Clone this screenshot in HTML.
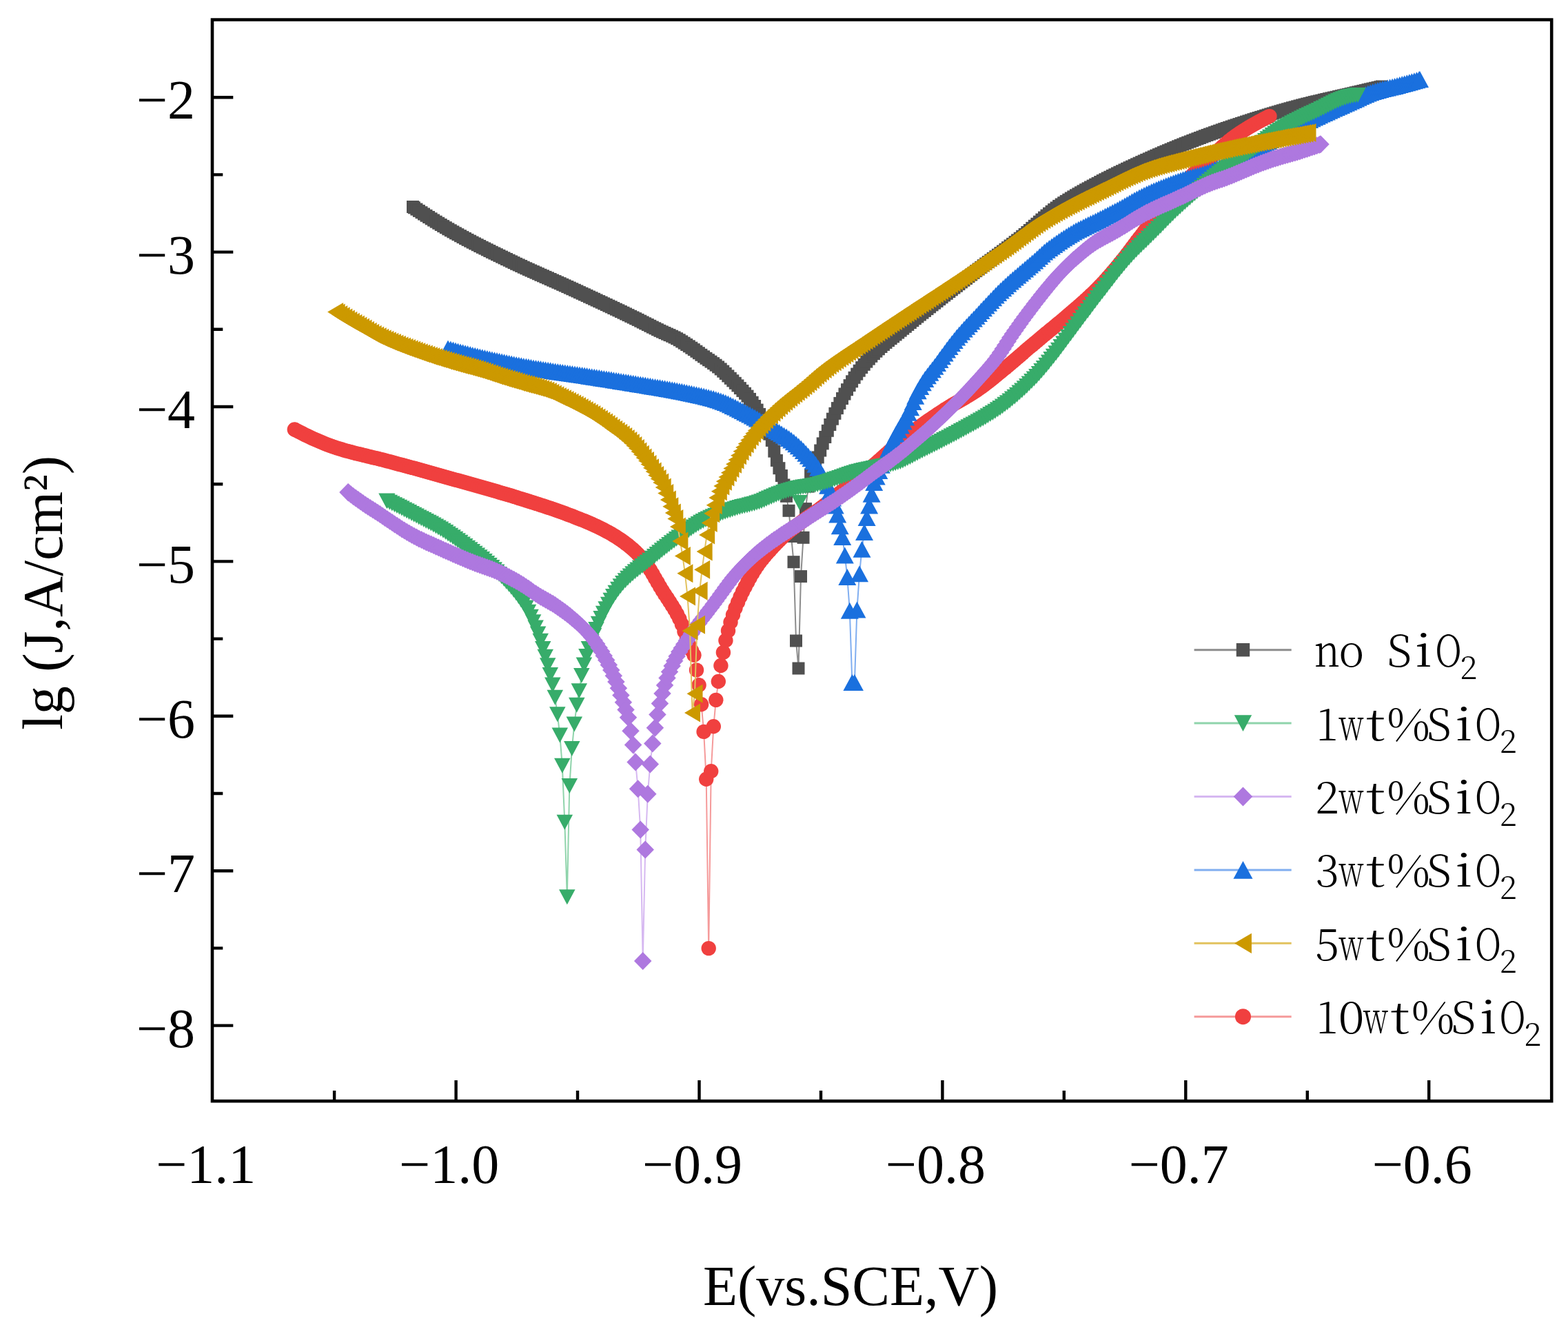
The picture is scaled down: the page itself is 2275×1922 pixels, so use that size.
<!DOCTYPE html>
<html><head><meta charset="utf-8"><title>Polarization curves</title>
<style>html,body{margin:0;padding:0;background:#fff;overflow:hidden}svg{display:block}</style>
</head><body>
<svg xmlns="http://www.w3.org/2000/svg" width="2275" height="1922" viewBox="0 0 2275 1922"><defs><marker id="mgray" markerUnits="userSpaceOnUse" markerWidth="40" markerHeight="40" refX="0" refY="0" viewBox="-20 -20 40 40" orient="0" overflow="visible"><g fill="#505050"><rect x="-9" y="-9" width="18" height="18"/></g></marker><marker id="mgreen" markerUnits="userSpaceOnUse" markerWidth="40" markerHeight="40" refX="0" refY="0" viewBox="-20 -20 40 40" orient="0" overflow="visible"><g fill="#37ac6a"><path d="M-11.75 -11H11.75L0 11Z"/></g></marker><marker id="mpurple" markerUnits="userSpaceOnUse" markerWidth="40" markerHeight="40" refX="0" refY="0" viewBox="-20 -20 40 40" orient="0" overflow="visible"><g fill="#ae78df"><path d="M0 -13L12.75 0L0 13L-12.75 0Z"/></g></marker><marker id="mblue" markerUnits="userSpaceOnUse" markerWidth="40" markerHeight="40" refX="0" refY="0" viewBox="-20 -20 40 40" orient="0" overflow="visible"><g fill="#1a70de"><path d="M-13 12H13L0 -12Z"/></g></marker><marker id="mgold" markerUnits="userSpaceOnUse" markerWidth="40" markerHeight="40" refX="0" refY="0" viewBox="-20 -20 40 40" orient="0" overflow="visible"><g fill="#cc9900"><path d="M11.5 -13.5V13.5L-11.5 0Z"/></g></marker><marker id="mred" markerUnits="userSpaceOnUse" markerWidth="40" markerHeight="40" refX="0" refY="0" viewBox="-20 -20 40 40" orient="0" overflow="visible"><g fill="#f0403f"><circle r="10.7"/></g></marker></defs><rect x="0" y="0" width="2275" height="1922" fill="#fff"/>
<path d="M599.0 300.0 600.9 301.3 604.4 303.6 607.9 305.9 611.5 308.2 615.0 310.5 618.5 312.8 622.1 315.0 625.6 317.3 629.1 319.5 632.7 321.7 636.2 323.8 639.7 326.0 643.2 328.1 646.8 330.2 650.3 332.3 653.8 334.3 657.4 336.3 660.9 338.3 664.4 340.2 668.0 342.2 671.5 344.1 675.0 346.0 678.5 347.9 682.1 349.7 685.6 351.6 689.1 353.4 692.7 355.2 696.2 357.0 699.7 358.8 703.3 360.5 706.8 362.3 710.3 364.0 713.8 365.8 717.4 367.5 720.9 369.2 724.4 370.9 728.0 372.6 731.5 374.3 735.0 376.0 738.6 377.7 742.1 379.4 745.6 381.1 749.1 382.8 752.7 384.4 756.2 386.0 759.7 387.7 763.3 389.3 766.8 390.9 770.3 392.5 773.9 394.1 777.4 395.6 780.9 397.2 784.4 398.8 788.0 400.3 791.5 401.9 795.0 403.4 798.6 405.0 802.1 406.6 805.6 408.1 809.2 409.7 812.7 411.2 816.2 412.8 819.7 414.4 823.3 416.0 826.8 417.6 830.3 419.2 833.9 420.8 837.4 422.4 840.9 424.1 844.5 425.7 848.0 427.3 851.5 428.9 855.0 430.6 858.6 432.2 862.1 433.8 865.6 435.5 869.2 437.1 872.7 438.7 876.2 440.4 879.8 442.0 883.3 443.7 886.8 445.3 890.3 447.0 893.9 448.7 897.4 450.3 900.9 452.0 904.5 453.7 908.0 455.4 911.5 457.1 915.1 458.8 918.6 460.5 922.1 462.2 925.6 463.9 929.2 465.7 932.7 467.5 936.2 469.3 939.8 471.0 943.3 472.8 946.8 474.6 950.4 476.3 953.9 478.1 957.4 479.8 960.9 481.4 964.5 483.0 968.0 484.6 971.5 486.1 975.1 487.7 978.6 489.4 982.1 491.2 985.7 493.2 989.2 495.4 992.7 497.7 996.2 500.0 999.8 502.3 1003.3 504.7 1006.8 507.1 1010.4 509.7 1013.9 512.2 1017.4 514.8 1021.0 517.3 1024.5 519.8 1028.0 522.2 1031.5 524.6 1035.1 527.1 1038.6 529.7 1042.1 532.4 1045.7 535.4 1049.2 538.6 1052.7 541.9 1056.3 545.4 1059.8 548.8 1063.3 552.3 1066.8 555.8 1070.4 559.4 1073.9 563.1 1077.4 566.9 1081.0 570.7 1084.5 574.6 1088.0 578.9 1091.6 583.7 1095.1 589.0 1098.6 594.6 1102.1 600.9 1105.7 607.9 1109.2 615.3 1112.7 622.4 1116.3 629.6 1119.8 638.9 1123.3 654.6 1126.9 667.9 1130.4 679.2 1133.9 690.0 1137.4 703.5 1141.0 719.8 1144.5 740.8 1148.0 778.0 1151.5 815.2 1155.0 929.5 1158.5 969.5 1162.0 836.1 1165.5 779.8 1169.0 738.1 1172.6 705.6 1176.1 688.3 1179.6 678.8 1183.1 671.7 1186.7 663.4 1190.2 653.5 1193.7 643.4 1197.3 634.0 1200.8 624.8 1204.3 616.0 1207.9 607.7 1211.4 599.8 1214.9 592.1 1218.4 584.9 1222.0 578.0 1225.5 571.5 1229.0 565.2 1232.6 559.1 1236.1 553.3 1239.6 547.8 1243.2 542.6 1246.7 537.7 1250.2 533.1 1253.7 528.8 1257.3 524.6 1260.8 520.6 1264.3 516.8 1267.9 513.1 1271.4 509.6 1274.9 506.3 1278.5 503.0 1282.0 499.9 1285.5 496.9 1289.0 494.0 1292.6 491.1 1296.1 488.3 1299.6 485.4 1303.2 482.5 1306.7 479.6 1310.2 476.7 1313.8 473.8 1317.3 470.9 1320.8 468.0 1324.3 465.1 1327.9 462.2 1331.4 459.4 1334.9 456.5 1338.5 453.7 1342.0 450.9 1345.5 448.1 1349.1 445.3 1352.6 442.4 1356.1 439.7 1359.6 436.9 1363.2 434.1 1366.7 431.3 1370.2 428.5 1373.8 425.8 1377.3 423.0 1380.8 420.3 1384.4 417.5 1387.9 414.8 1391.4 412.1 1394.9 409.3 1398.5 406.6 1402.0 403.9 1405.5 401.2 1409.1 398.5 1412.6 395.8 1416.1 393.1 1419.7 390.5 1423.2 387.9 1426.7 385.2 1430.2 382.6 1433.8 380.0 1437.3 377.5 1440.8 374.9 1444.4 372.3 1447.9 369.7 1451.4 367.1 1455.0 364.5 1458.5 361.8 1462.0 359.2 1465.5 356.5 1469.1 353.9 1472.6 351.1 1476.1 348.4 1479.7 345.7 1483.2 342.8 1486.7 340.0 1490.3 337.0 1493.8 334.0 1497.3 330.9 1500.8 327.8 1504.4 324.8 1507.9 321.7 1511.4 318.6 1515.0 315.6 1518.5 312.6 1522.0 309.7 1525.6 306.8 1529.1 304.1 1532.6 301.5 1536.1 298.9 1539.7 296.5 1543.2 294.2 1546.7 291.9 1550.3 289.7 1553.8 287.5 1557.3 285.4 1560.9 283.3 1564.4 281.3 1567.9 279.3 1571.4 277.3 1575.0 275.3 1578.5 273.4 1582.0 271.5 1585.6 269.6 1589.1 267.7 1592.6 265.9 1596.2 264.0 1599.7 262.1 1603.2 260.3 1606.7 258.5 1610.3 256.8 1613.8 255.0 1617.3 253.3 1620.9 251.5 1624.4 249.8 1627.9 248.2 1631.5 246.5 1635.0 244.8 1638.5 243.2 1642.0 241.6 1645.6 239.9 1649.1 238.3 1652.6 236.7 1656.2 235.1 1659.7 233.5 1663.2 231.9 1666.8 230.4 1670.3 228.8 1673.8 227.3 1677.3 225.7 1680.9 224.2 1684.4 222.7 1687.9 221.1 1691.5 219.6 1695.0 218.2 1698.5 216.7 1702.1 215.2 1705.6 213.8 1709.1 212.3 1712.6 210.9 1716.2 209.5 1719.7 208.1 1723.2 206.7 1726.8 205.4 1730.3 204.0 1733.8 202.6 1737.4 201.3 1740.9 200.0 1744.4 198.6 1747.9 197.3 1751.5 196.0 1755.0 194.7 1758.5 193.5 1762.1 192.2 1765.6 190.9 1769.1 189.7 1772.7 188.4 1776.2 187.2 1779.7 186.0 1783.2 184.8 1786.8 183.6 1790.3 182.4 1793.8 181.3 1797.4 180.1 1800.9 178.9 1804.4 177.8 1808.0 176.6 1811.5 175.5 1815.0 174.4 1818.5 173.2 1822.1 172.1 1825.6 171.0 1829.1 169.9 1832.7 168.8 1836.2 167.7 1839.7 166.6 1843.3 165.5 1846.8 164.5 1850.3 163.4 1853.8 162.4 1857.4 161.3 1860.9 160.3 1864.4 159.3 1868.0 158.3 1871.5 157.3 1875.0 156.3 1878.6 155.4 1882.1 154.4 1885.6 153.5 1889.1 152.5 1892.7 151.6 1896.2 150.7 1899.7 149.9 1903.3 149.0 1906.8 148.1 1910.3 147.3 1913.9 146.5 1917.4 145.7 1920.9 144.8 1924.4 144.0 1928.0 143.2 1931.5 142.4 1935.0 141.6 1938.6 140.8 1942.1 140.0 1945.6 139.2 1949.2 138.4 1952.7 137.6 1956.2 136.8 1959.7 136.0 1963.3 135.2 1966.8 134.3 1970.3 133.5 1973.9 132.7 1977.4 131.9 1980.9 131.1 1984.5 130.2 1988.0 129.4 1991.5 128.6 1995.0 127.8 1998.6 127.0 2002.1 126.2 2005.0 125.5" fill="none" stroke="#8c8c8c" stroke-width="2" marker-start="url(#mgray)" marker-mid="url(#mgray)" marker-end="url(#mgray)"/>
<path d="M427.3 623.0 428.1 623.4 431.6 625.2 435.1 627.0 438.7 628.8 442.2 630.6 445.7 632.3 449.3 633.9 452.8 635.6 456.3 637.2 459.9 638.8 463.4 640.3 466.9 641.8 470.4 643.2 474.0 644.6 477.5 645.9 481.0 647.2 484.6 648.4 488.1 649.6 491.6 650.7 495.2 651.8 498.7 652.9 502.2 653.9 505.7 654.8 509.3 655.8 512.8 656.7 516.3 657.6 519.9 658.5 523.4 659.3 526.9 660.2 530.5 661.0 534.0 661.9 537.5 662.7 541.0 663.6 544.6 664.4 548.1 665.3 551.6 666.1 555.2 667.0 558.7 668.0 562.2 668.9 565.8 669.8 569.3 670.8 572.8 671.7 576.3 672.7 579.9 673.6 583.4 674.5 586.9 675.5 590.5 676.5 594.0 677.4 597.5 678.4 601.1 679.3 604.6 680.3 608.1 681.3 611.6 682.2 615.2 683.2 618.7 684.2 622.2 685.2 625.8 686.2 629.3 687.1 632.8 688.1 636.4 689.1 639.9 690.1 643.4 691.1 646.9 692.1 650.5 693.1 654.0 694.1 657.5 695.1 661.1 696.1 664.6 697.0 668.1 698.0 671.7 699.0 675.2 700.0 678.7 701.0 682.2 701.9 685.8 702.9 689.3 703.9 692.8 704.9 696.4 705.9 699.9 706.9 703.4 707.9 707.0 708.9 710.5 710.0 714.0 711.0 717.5 712.0 721.1 713.0 724.6 714.1 728.1 715.1 731.7 716.1 735.2 717.2 738.7 718.2 742.3 719.3 745.8 720.4 749.3 721.5 752.8 722.6 756.4 723.7 759.9 724.8 763.4 725.9 767.0 727.0 770.5 728.1 774.0 729.3 777.6 730.4 781.1 731.5 784.6 732.6 788.1 733.8 791.7 735.0 795.2 736.1 798.7 737.3 802.3 738.5 805.8 739.7 809.3 741.0 812.9 742.2 816.4 743.5 819.9 744.8 823.4 746.1 827.0 747.4 830.5 748.8 834.0 750.2 837.6 751.6 841.1 753.0 844.6 754.4 848.2 755.8 851.7 757.3 855.2 758.8 858.7 760.3 862.3 761.9 865.8 763.5 869.3 765.2 872.9 766.9 876.4 768.7 879.9 770.6 883.5 772.5 887.0 774.5 890.5 776.6 894.0 778.8 897.6 781.1 901.1 783.4 904.6 785.9 908.2 788.6 911.7 791.3 915.2 794.2 918.8 797.3 922.3 800.5 925.8 804.0 929.3 807.6 932.9 811.4 936.4 815.9 939.9 821.1 943.5 826.7 947.0 832.6 950.5 838.8 954.1 844.9 957.6 851.0 961.1 856.8 964.6 862.3 968.2 867.6 971.7 873.0 975.2 878.5 978.8 884.3 982.3 890.6 985.8 897.5 989.4 905.7 992.9 915.9 996.4 926.5 999.9 935.9 1003.5 943.5 1007.0 950.2 1010.5 971.9 1014.1 993.7 1017.6 1021.8 1021.1 1061.4 1024.7 1130.3 1028.2 1375.6 1031.7 1118.8 1035.3 1053.7 1038.8 1015.4 1042.3 988.5 1045.9 965.5 1049.4 946.4 1052.9 929.0 1056.5 914.9 1060.0 902.5 1063.5 891.7 1067.0 882.1 1070.6 873.5 1074.1 865.5 1077.6 858.1 1081.2 851.1 1084.7 844.4 1088.2 837.9 1091.8 831.8 1095.3 826.0 1098.8 820.7 1102.3 815.8 1105.9 811.2 1109.4 806.9 1112.9 802.8 1116.5 798.9 1120.0 795.0 1123.5 791.2 1127.1 787.5 1130.6 783.9 1134.1 780.4 1137.6 777.1 1141.2 774.0 1144.7 771.0 1148.2 768.1 1151.8 765.4 1155.3 762.7 1158.8 760.1 1162.4 757.5 1165.9 754.8 1169.4 752.3 1172.9 749.8 1176.5 747.4 1180.0 744.9 1183.5 742.5 1187.1 739.9 1190.6 737.3 1194.1 734.6 1197.7 731.9 1201.2 729.1 1204.7 726.3 1208.2 723.4 1211.8 720.6 1215.3 717.8 1218.8 714.9 1222.4 712.1 1225.9 709.2 1229.4 706.4 1233.0 703.5 1236.5 700.6 1240.0 697.7 1243.5 694.8 1247.1 691.9 1250.6 689.0 1254.1 686.1 1257.7 683.1 1261.2 680.2 1264.7 677.2 1268.3 674.2 1271.8 671.2 1275.3 668.1 1278.8 665.0 1282.4 661.8 1285.9 658.6 1289.4 655.5 1293.0 652.3 1296.5 649.2 1300.0 646.1 1303.6 643.0 1307.1 640.0 1310.6 637.1 1314.1 634.2 1317.7 631.5 1321.2 628.8 1324.7 626.1 1328.3 623.5 1331.8 620.9 1335.3 618.3 1338.9 615.8 1342.4 613.3 1345.9 610.8 1349.4 608.4 1353.0 606.0 1356.5 603.6 1360.0 601.2 1363.6 598.9 1367.1 596.6 1370.6 594.3 1374.2 592.1 1377.7 589.9 1381.2 587.8 1384.7 585.8 1388.3 583.7 1391.8 581.7 1395.3 579.7 1398.9 577.6 1402.4 575.5 1405.9 573.4 1409.5 571.2 1413.0 569.0 1416.5 566.7 1420.0 564.3 1423.6 561.8 1427.1 559.2 1430.6 556.5 1434.2 553.7 1437.7 550.9 1441.2 548.1 1444.8 545.2 1448.3 542.3 1451.8 539.4 1455.3 536.5 1458.9 533.6 1462.4 530.7 1465.9 527.7 1469.5 524.7 1473.0 521.7 1476.5 518.7 1480.1 515.6 1483.6 512.6 1487.1 509.5 1490.6 506.5 1494.2 503.5 1497.7 500.6 1501.2 497.6 1504.8 494.7 1508.3 491.7 1511.8 488.8 1515.4 485.8 1518.9 482.9 1522.4 480.0 1525.9 477.1 1529.5 474.2 1533.0 471.3 1536.5 468.4 1540.1 465.5 1543.6 462.5 1547.1 459.5 1550.7 456.4 1554.2 453.4 1557.7 450.4 1561.2 447.4 1564.8 444.3 1568.3 441.2 1571.8 438.1 1575.4 434.9 1578.9 431.6 1582.4 428.3 1586.0 425.0 1589.5 421.5 1593.0 418.0 1596.5 414.4 1600.1 410.6 1603.6 406.8 1607.1 402.8 1610.7 398.8 1614.2 394.6 1617.7 390.5 1621.3 386.2 1624.8 381.9 1628.3 377.6 1631.8 373.2 1635.4 368.6 1638.9 364.0 1642.4 359.3 1646.0 354.6 1649.5 349.9 1653.0 345.3 1656.6 340.7 1660.1 336.0 1663.6 331.3 1667.1 326.6 1670.7 321.9 1674.2 317.2 1677.7 312.5 1681.3 307.9 1684.8 303.4 1688.3 298.9 1691.9 294.6 1695.4 290.3 1698.9 286.2 1702.4 282.3 1706.0 278.4 1709.5 274.6 1713.0 270.9 1716.6 267.3 1720.1 263.7 1723.6 260.2 1727.2 256.7 1730.7 253.3 1734.2 249.9 1737.7 246.5 1741.3 243.2 1744.8 239.9 1748.3 236.6 1751.9 233.2 1755.4 229.9 1758.9 226.5 1762.5 223.2 1766.0 219.8 1769.5 216.5 1773.0 213.3 1776.6 210.2 1780.1 207.1 1783.6 204.1 1787.2 201.3 1790.7 198.7 1794.2 196.1 1797.8 193.7 1801.3 191.4 1804.8 189.1 1808.3 187.0 1811.9 184.8 1815.4 182.8 1818.9 180.8 1822.5 178.8 1826.0 176.8 1829.5 174.9 1833.1 173.0 1836.6 171.2 1840.1 169.5 1842.0 168.6" fill="none" stroke="#f59a9a" stroke-width="2" marker-start="url(#mred)" marker-mid="url(#mred)" marker-end="url(#mred)"/>
<path d="M650.0 505.5 653.9 506.6 657.5 507.5 661.0 508.5 664.5 509.4 668.1 510.4 671.6 511.3 675.1 512.2 678.6 513.1 682.2 514.0 685.7 514.9 689.2 515.7 692.8 516.6 696.3 517.4 699.8 518.3 703.4 519.1 706.9 519.9 710.4 520.7 713.9 521.5 717.5 522.3 721.0 523.0 724.5 523.8 728.1 524.6 731.6 525.3 735.1 526.0 738.7 526.8 742.2 527.5 745.7 528.2 749.2 528.9 752.8 529.6 756.3 530.2 759.8 530.9 763.4 531.5 766.9 532.1 770.4 532.7 774.0 533.4 777.5 534.0 781.0 534.5 784.5 535.1 788.1 535.7 791.6 536.3 795.1 536.8 798.7 537.3 802.2 537.9 805.7 538.4 809.3 538.9 812.8 539.4 816.3 539.9 819.8 540.4 823.4 540.9 826.9 541.4 830.4 541.9 834.0 542.4 837.5 543.0 841.0 543.5 844.6 544.0 848.1 544.6 851.6 545.1 855.1 545.7 858.7 546.2 862.2 546.7 865.7 547.3 869.3 547.8 872.8 548.4 876.3 548.9 879.9 549.5 883.4 550.0 886.9 550.6 890.4 551.2 894.0 551.7 897.5 552.3 901.0 552.9 904.6 553.4 908.1 554.0 911.6 554.6 915.2 555.2 918.7 555.7 922.2 556.3 925.7 556.9 929.3 557.5 932.8 558.1 936.3 558.6 939.9 559.2 943.4 559.8 946.9 560.4 950.5 560.9 954.0 561.5 957.5 562.1 961.0 562.7 964.6 563.3 968.1 563.9 971.6 564.6 975.2 565.2 978.7 565.8 982.2 566.5 985.8 567.2 989.3 567.8 992.8 568.5 996.3 569.2 999.9 570.0 1003.4 570.7 1006.9 571.4 1010.5 572.2 1014.0 572.9 1017.5 573.7 1021.1 574.5 1024.6 575.4 1028.1 576.3 1031.6 577.2 1035.2 578.1 1038.7 579.2 1042.2 580.3 1045.8 581.4 1049.3 582.7 1052.8 584.1 1056.4 585.6 1059.9 587.2 1063.4 588.9 1066.9 590.6 1070.5 592.4 1074.0 594.2 1077.5 596.0 1081.1 597.9 1084.6 599.8 1088.1 601.6 1091.7 603.5 1095.2 605.5 1098.7 607.6 1102.2 609.7 1105.8 611.8 1109.3 614.0 1112.8 616.1 1116.4 618.3 1119.9 620.5 1123.4 622.7 1127.0 624.9 1130.5 627.0 1134.0 629.2 1137.5 631.4 1141.1 633.6 1144.6 636.0 1148.1 638.6 1151.7 641.3 1155.2 644.2 1158.7 647.3 1162.3 650.6 1165.8 654.1 1169.3 657.7 1172.8 661.4 1176.4 665.3 1179.9 669.3 1183.4 673.8 1187.0 678.7 1190.5 684.3 1194.0 690.6 1197.6 697.4 1201.1 704.8 1204.6 713.0 1208.1 722.4 1211.7 733.6 1215.2 746.6 1218.7 763.3 1222.2 779.1 1225.8 805.5 1229.3 837.1 1232.8 885.8 1236.4 990.0 1239.9 990.0 1243.4 884.6 1247.0 832.2 1250.5 796.7 1254.0 772.1 1257.6 751.0 1261.1 733.4 1264.6 716.7 1268.2 700.0 1271.7 691.4 1275.3 683.0 1278.8 674.8 1282.3 666.7 1285.8 658.9 1289.4 651.3 1292.9 644.0 1296.4 636.9 1300.0 630.1 1303.5 623.7 1307.0 617.6 1310.6 611.6 1314.1 605.5 1317.6 598.8 1321.1 591.2 1324.7 582.9 1328.2 574.7 1331.7 567.2 1335.3 560.9 1338.8 555.3 1342.3 550.1 1345.9 545.3 1349.4 540.7 1352.9 536.2 1356.4 531.7 1360.0 526.9 1363.5 522.1 1367.0 517.2 1370.6 512.4 1374.1 507.6 1377.6 502.9 1381.2 498.3 1384.7 493.9 1388.2 489.6 1391.7 485.5 1395.3 481.5 1398.8 477.6 1402.3 473.8 1405.9 470.0 1409.4 466.2 1412.9 462.5 1416.5 458.7 1420.0 454.9 1423.5 451.1 1427.0 447.3 1430.6 443.5 1434.1 439.7 1437.6 436.0 1441.2 432.3 1444.7 428.6 1448.2 425.1 1451.8 421.6 1455.3 418.2 1458.8 415.0 1462.3 411.8 1465.9 408.6 1469.4 405.6 1472.9 402.5 1476.5 399.5 1480.0 396.6 1483.5 393.6 1487.1 390.6 1490.6 387.6 1494.1 384.6 1497.6 381.5 1501.2 378.4 1504.7 375.2 1508.2 371.9 1511.8 368.7 1515.3 365.6 1518.8 362.8 1522.4 360.1 1525.9 357.4 1529.4 354.9 1532.9 352.4 1536.5 349.9 1540.0 347.6 1543.5 345.3 1547.1 343.0 1550.6 340.8 1554.1 338.7 1557.7 336.6 1561.2 334.6 1564.7 332.7 1568.2 330.9 1571.8 329.2 1575.3 327.5 1578.8 325.8 1582.4 324.1 1585.9 322.4 1589.4 320.7 1593.0 318.9 1596.5 317.1 1600.0 315.4 1603.5 313.6 1607.1 311.8 1610.6 310.0 1614.1 308.1 1617.7 306.3 1621.2 304.4 1624.7 302.5 1628.3 300.5 1631.8 298.5 1635.3 296.4 1638.8 294.4 1642.4 292.3 1645.9 290.3 1649.4 288.4 1653.0 286.5 1656.5 284.7 1660.0 283.0 1663.6 281.3 1667.1 279.7 1670.6 278.1 1674.1 276.6 1677.7 275.1 1681.2 273.6 1684.7 272.1 1688.3 270.7 1691.8 269.3 1695.3 267.9 1698.9 266.6 1702.4 265.2 1705.9 264.0 1709.4 262.7 1713.0 261.5 1716.5 260.3 1720.0 259.2 1723.6 258.2 1727.1 257.2 1730.6 256.3 1734.2 255.3 1737.7 254.4 1741.2 253.4 1744.7 252.4 1748.3 251.3 1751.8 250.2 1755.3 248.9 1758.9 247.6 1762.4 246.1 1765.9 244.6 1769.5 242.9 1773.0 241.2 1776.5 239.4 1780.0 237.5 1783.6 235.6 1787.1 233.7 1790.6 231.7 1794.2 229.7 1797.7 227.8 1801.2 225.8 1804.8 223.8 1808.3 221.9 1811.8 219.9 1815.3 218.1 1818.9 216.2 1822.4 214.4 1825.9 212.5 1829.5 210.6 1833.0 208.7 1836.5 206.8 1840.1 204.9 1843.6 203.0 1847.1 201.1 1850.6 199.2 1854.2 197.3 1857.7 195.4 1861.2 193.5 1864.8 191.6 1868.3 189.7 1871.8 187.9 1875.4 186.1 1878.9 184.3 1882.4 182.5 1885.9 180.7 1889.5 179.0 1893.0 177.3 1896.5 175.6 1900.1 173.9 1903.6 172.2 1907.1 170.5 1910.7 168.9 1914.2 167.2 1917.7 165.6 1921.2 164.0 1924.8 162.4 1928.3 160.8 1931.8 159.2 1935.4 157.6 1938.9 156.0 1942.4 154.4 1946.0 152.9 1949.5 151.3 1953.0 149.7 1956.5 148.2 1960.1 146.6 1963.6 145.0 1967.1 143.4 1970.7 141.8 1974.2 140.1 1977.7 138.6 1981.3 137.0 1984.8 135.6 1988.3 134.3 1991.8 133.0 1995.4 131.9 1998.9 130.9 2002.4 130.0 2006.0 129.1 2009.5 128.2 2013.0 127.4 2016.6 126.5 2020.1 125.7 2023.6 124.9 2027.1 124.0 2030.7 123.1 2034.2 122.1 2037.7 121.2 2041.3 120.2 2044.8 119.3 2048.3 118.3 2051.9 117.3 2055.4 116.3 2058.9 115.3 2060.0 115.0" fill="none" stroke="#80aef0" stroke-width="2" marker-start="url(#mblue)" marker-mid="url(#mblue)" marker-end="url(#mblue)"/>
<path d="M561.0 726.6 561.8 727.0 565.3 728.7 568.8 730.5 572.4 732.2 575.9 734.0 579.4 735.8 582.9 737.6 586.5 739.4 590.0 741.2 593.5 743.1 597.1 744.9 600.6 746.7 604.1 748.6 607.7 750.4 611.2 752.2 614.7 754.0 618.2 755.9 621.8 757.7 625.3 759.6 628.8 761.5 632.4 763.5 635.9 765.5 639.4 767.6 643.0 769.8 646.5 772.1 650.0 774.4 653.5 776.8 657.1 779.2 660.6 781.7 664.1 784.2 667.7 786.8 671.2 789.4 674.7 792.0 678.3 794.7 681.8 797.3 685.3 800.0 688.8 802.7 692.4 805.5 695.9 808.3 699.4 811.1 703.0 814.0 706.5 816.9 710.0 819.9 713.6 823.1 717.1 826.3 720.6 829.6 724.1 833.0 727.7 836.5 731.2 840.1 734.7 843.9 738.3 847.8 741.8 851.8 745.3 856.1 748.9 860.5 752.4 865.2 755.9 870.2 759.4 875.6 763.0 881.4 766.5 887.7 770.0 894.7 773.6 902.2 777.1 910.5 780.6 919.6 784.2 929.8 787.7 940.9 791.2 952.8 794.7 965.3 798.3 978.9 801.8 993.5 805.3 1011.8 808.8 1036.3 812.3 1066.4 815.8 1110.8 819.3 1192.8 822.8 1301.2 826.3 1140.1 829.8 1086.1 833.3 1050.4 836.8 1022.8 840.3 1002.2 843.8 979.9 847.4 964.5 850.9 952.0 854.4 941.0 857.9 931.3 861.5 922.0 865.0 913.1 868.5 904.7 872.1 896.9 875.6 889.8 879.1 883.2 882.7 876.8 886.2 870.8 889.7 865.1 893.2 859.8 896.8 854.8 900.3 850.3 903.8 846.1 907.4 842.3 910.9 838.8 914.4 835.5 918.0 832.3 921.5 829.3 925.0 826.4 928.5 823.7 932.1 820.9 935.6 818.2 939.1 815.5 942.7 812.7 946.2 809.8 949.7 806.9 953.3 804.1 956.8 801.2 960.3 798.3 963.8 795.5 967.4 792.7 970.9 790.0 974.4 787.3 978.0 784.7 981.5 782.1 985.0 779.5 988.6 777.0 992.1 774.5 995.6 771.9 999.1 769.4 1002.7 766.9 1006.2 764.5 1009.7 762.2 1013.3 760.0 1016.8 757.8 1020.3 755.9 1023.9 754.0 1027.4 752.4 1030.9 750.8 1034.4 749.3 1038.0 747.8 1041.5 746.5 1045.0 745.2 1048.6 743.9 1052.1 742.7 1055.6 741.5 1059.2 740.4 1062.7 739.3 1066.2 738.2 1069.7 737.1 1073.3 736.0 1076.8 735.1 1080.3 734.2 1083.9 733.4 1087.4 732.5 1090.9 731.6 1094.5 730.7 1098.0 729.6 1101.5 728.5 1105.0 727.2 1108.6 725.7 1112.1 724.1 1115.6 722.5 1119.2 720.9 1122.7 719.4 1126.2 717.9 1129.8 716.6 1133.3 715.4 1136.8 714.1 1140.3 712.9 1143.9 711.8 1147.4 710.7 1150.9 709.7 1154.5 708.7 1158.0 707.9 1161.5 707.2 1165.1 706.5 1168.6 706.0 1172.1 705.4 1175.6 704.9 1179.2 704.3 1182.7 703.7 1186.2 702.9 1189.8 702.1 1193.3 701.1 1196.8 700.0 1200.4 698.9 1203.9 697.7 1207.4 696.5 1210.9 695.3 1214.5 694.2 1218.0 693.0 1221.5 691.8 1225.1 690.5 1228.6 689.3 1232.1 688.0 1235.7 686.8 1239.2 685.7 1242.7 684.6 1246.2 683.7 1249.8 682.8 1253.3 682.0 1256.8 681.2 1260.4 680.4 1263.9 679.7 1267.4 679.0 1271.0 678.2 1274.5 677.5 1278.0 676.8 1281.5 676.1 1285.1 675.4 1288.6 674.7 1292.1 674.0 1295.7 673.2 1299.2 672.2 1302.7 671.1 1306.3 669.9 1309.8 668.4 1313.3 666.8 1316.8 665.1 1320.4 663.3 1323.9 661.5 1327.4 659.6 1331.0 657.7 1334.5 655.8 1338.0 654.0 1341.6 652.2 1345.1 650.5 1348.6 648.7 1352.1 647.0 1355.7 645.2 1359.2 643.5 1362.7 641.7 1366.3 639.9 1369.8 638.1 1373.3 636.3 1376.9 634.5 1380.4 632.6 1383.9 630.8 1387.4 628.9 1391.0 627.0 1394.5 625.1 1398.0 623.2 1401.6 621.2 1405.1 619.3 1408.6 617.3 1412.2 615.4 1415.7 613.4 1419.2 611.4 1422.7 609.5 1426.3 607.4 1429.8 605.4 1433.3 603.3 1436.9 601.1 1440.4 598.9 1443.9 596.7 1447.5 594.3 1451.0 591.9 1454.5 589.4 1458.0 586.8 1461.6 584.2 1465.1 581.4 1468.6 578.6 1472.2 575.7 1475.7 572.7 1479.2 569.6 1482.8 566.4 1486.3 563.2 1489.8 559.9 1493.3 556.5 1496.9 553.1 1500.4 549.6 1503.9 545.9 1507.5 542.1 1511.0 538.1 1514.5 534.0 1518.1 529.7 1521.6 525.4 1525.1 521.1 1528.6 516.7 1532.2 512.3 1535.7 507.7 1539.2 503.1 1542.8 498.3 1546.3 493.6 1549.8 488.7 1553.4 483.9 1556.9 479.2 1560.4 474.4 1563.9 469.7 1567.5 465.0 1571.0 460.3 1574.5 455.6 1578.1 450.9 1581.6 446.2 1585.1 441.5 1588.7 436.8 1592.2 432.1 1595.7 427.5 1599.2 423.0 1602.8 418.4 1606.3 413.8 1609.8 409.2 1613.4 404.7 1616.9 400.1 1620.4 395.6 1624.0 391.1 1627.5 386.7 1631.0 382.4 1634.5 378.2 1638.1 374.2 1641.6 370.2 1645.1 366.5 1648.7 362.8 1652.2 359.2 1655.7 355.8 1659.3 352.3 1662.8 348.9 1666.3 345.5 1669.8 342.1 1673.4 338.6 1676.9 335.1 1680.4 331.5 1684.0 327.9 1687.5 324.3 1691.0 320.7 1694.6 317.1 1698.1 313.6 1701.6 310.1 1705.1 306.6 1708.7 303.2 1712.2 299.9 1715.7 296.7 1719.3 293.5 1722.8 290.3 1726.3 287.2 1729.9 284.1 1733.4 281.0 1736.9 278.0 1740.4 275.0 1744.0 272.0 1747.5 269.0 1751.0 266.1 1754.6 263.1 1758.1 260.2 1761.6 257.3 1765.2 254.5 1768.7 251.6 1772.2 248.9 1775.7 246.2 1779.3 243.5 1782.8 241.0 1786.3 238.5 1789.9 236.1 1793.4 233.7 1796.9 231.4 1800.5 229.0 1804.0 226.7 1807.5 224.4 1811.0 222.0 1814.6 219.6 1818.1 217.2 1821.6 214.6 1825.2 212.0 1828.7 209.4 1832.2 206.7 1835.8 204.0 1839.3 201.3 1842.8 198.7 1846.3 196.1 1849.9 193.6 1853.4 191.1 1856.9 188.8 1860.5 186.5 1864.0 184.4 1867.5 182.4 1871.1 180.4 1874.6 178.5 1878.1 176.7 1881.6 174.9 1885.2 173.2 1888.7 171.4 1892.2 169.8 1895.8 168.1 1899.3 166.4 1902.8 164.8 1906.4 163.2 1909.9 161.5 1913.4 159.9 1916.9 158.1 1920.5 156.4 1924.0 154.6 1927.5 152.8 1931.1 151.0 1934.6 149.3 1938.1 147.6 1941.7 146.0 1945.2 144.6 1948.7 143.2 1952.2 141.9 1955.8 140.8 1959.3 139.9 1962.8 139.2 1966.4 138.5 1970.0 138.0" fill="none" stroke="#8fd4ab" stroke-width="2" marker-start="url(#mgreen)" marker-mid="url(#mgreen)" marker-end="url(#mgreen)"/>
<g transform="translate(1160 729)" fill="#37ac6a"><path d="M-11.75 -11H11.75L0 11Z"/></g>
<path d="M505.0 714.0 505.6 714.4 509.1 717.2 512.6 719.9 516.1 722.6 519.7 725.1 523.2 727.6 526.7 730.1 530.3 732.4 533.8 734.7 537.3 736.9 540.9 739.2 544.4 741.4 547.9 743.8 551.4 746.1 555.0 748.5 558.5 750.9 562.0 753.3 565.6 755.7 569.1 758.1 572.6 760.5 576.2 762.8 579.7 765.1 583.2 767.4 586.7 769.6 590.3 771.8 593.8 773.8 597.3 775.8 600.9 777.8 604.4 779.6 607.9 781.4 611.5 783.1 615.0 784.8 618.5 786.4 622.0 788.0 625.6 789.6 629.1 791.1 632.6 792.7 636.2 794.2 639.7 795.8 643.2 797.4 646.8 799.0 650.3 800.5 653.8 802.1 657.3 803.7 660.9 805.2 664.4 806.8 667.9 808.3 671.5 809.8 675.0 811.3 678.5 812.7 682.1 814.2 685.6 815.6 689.1 816.9 692.6 818.2 696.2 819.4 699.7 820.7 703.2 821.9 706.8 823.2 710.3 824.5 713.8 825.8 717.4 827.2 720.9 828.7 724.4 830.2 727.9 831.8 731.5 833.5 735.0 835.2 738.5 837.0 742.1 838.9 745.6 840.8 749.1 842.8 752.7 844.8 756.2 846.9 759.7 849.1 763.2 851.4 766.8 853.8 770.3 856.3 773.8 858.9 777.4 861.3 780.9 863.6 784.4 865.7 788.0 867.7 791.5 869.7 795.0 871.7 798.5 873.7 802.1 875.8 805.6 878.1 809.1 880.5 812.7 882.9 816.2 885.5 819.7 888.1 823.3 890.8 826.8 893.6 830.3 896.5 833.8 899.4 837.4 902.5 840.9 905.7 844.4 909.0 848.0 912.5 851.5 916.3 855.0 920.3 858.6 924.5 862.1 929.1 865.6 934.1 869.1 939.4 872.7 945.1 876.2 951.2 879.7 957.6 883.3 964.6 886.8 972.1 890.3 980.2 893.9 988.9 897.4 998.3 900.9 1008.4 904.4 1018.8 908.0 1029.6 911.5 1040.8 915.0 1060.2 918.6 1080.6 922.1 1105.4 925.6 1144.2 929.2 1203.4 932.7 1394.0 936.2 1232.5 939.8 1151.7 943.3 1108.6 946.8 1078.5 950.4 1055.8 953.9 1036.5 957.4 1020.4 961.0 1005.9 964.5 993.9 968.0 983.6 971.5 974.4 975.1 966.1 978.6 958.7 982.1 951.9 985.7 945.6 989.2 939.9 992.7 934.5 996.3 929.3 999.8 924.2 1003.3 919.2 1006.8 914.1 1010.4 909.2 1013.9 904.3 1017.4 899.6 1021.0 895.0 1024.5 890.4 1028.0 885.8 1031.6 881.2 1035.1 876.5 1038.6 871.8 1042.1 867.0 1045.7 862.1 1049.2 857.2 1052.7 852.3 1056.3 847.5 1059.8 842.8 1063.3 838.2 1066.9 833.9 1070.4 829.9 1073.9 826.0 1077.4 822.3 1081.0 818.7 1084.5 815.2 1088.0 811.8 1091.6 808.5 1095.1 805.3 1098.6 802.3 1102.2 799.3 1105.7 796.4 1109.2 793.7 1112.7 791.0 1116.3 788.4 1119.8 785.8 1123.3 783.3 1126.9 780.9 1130.4 778.4 1133.9 776.0 1137.5 773.7 1141.0 771.4 1144.5 769.2 1148.0 766.9 1151.6 764.7 1155.1 762.4 1158.6 760.2 1162.2 757.9 1165.7 755.6 1169.2 753.3 1172.8 750.9 1176.3 748.6 1179.8 746.3 1183.3 744.1 1186.9 741.8 1190.4 739.5 1193.9 737.2 1197.5 735.0 1201.0 732.7 1204.5 730.5 1208.1 728.2 1211.6 725.9 1215.1 723.5 1218.6 721.1 1222.2 718.7 1225.7 716.2 1229.2 713.8 1232.8 711.3 1236.3 708.7 1239.8 706.2 1243.4 703.6 1246.9 701.1 1250.4 698.4 1253.9 695.8 1257.5 693.1 1261.0 690.4 1264.5 687.8 1268.1 685.1 1271.6 682.5 1275.1 679.9 1278.7 677.4 1282.2 674.9 1285.7 672.4 1289.2 669.9 1292.8 667.4 1296.3 664.8 1299.8 662.1 1303.4 659.4 1306.9 656.6 1310.4 653.8 1314.0 650.9 1317.5 648.0 1321.0 645.1 1324.5 642.1 1328.1 639.1 1331.6 636.1 1335.1 633.1 1338.7 630.0 1342.2 626.9 1345.7 623.7 1349.3 620.6 1352.8 617.4 1356.3 614.1 1359.8 610.9 1363.4 607.6 1366.9 604.2 1370.4 600.9 1374.0 597.4 1377.5 594.0 1381.0 590.5 1384.6 587.0 1388.1 583.5 1391.6 579.9 1395.1 576.3 1398.7 572.7 1402.2 569.0 1405.7 565.2 1409.3 561.4 1412.8 557.6 1416.3 553.7 1419.9 549.8 1423.4 545.9 1426.9 542.0 1430.4 538.0 1434.0 534.1 1437.5 530.0 1441.0 525.7 1444.6 521.3 1448.1 516.5 1451.6 511.4 1455.2 506.1 1458.7 500.7 1462.2 495.2 1465.7 489.8 1469.3 484.5 1472.8 479.4 1476.3 474.5 1479.9 469.5 1483.4 464.6 1486.9 459.8 1490.5 455.1 1494.0 450.3 1497.5 445.7 1501.0 441.1 1504.6 436.6 1508.1 432.0 1511.6 427.5 1515.2 423.1 1518.7 418.7 1522.2 414.4 1525.8 410.2 1529.3 406.0 1532.8 402.1 1536.3 398.2 1539.9 394.5 1543.4 390.8 1546.9 387.2 1550.5 383.8 1554.0 380.4 1557.5 377.1 1561.1 373.9 1564.6 370.9 1568.1 367.9 1571.6 364.9 1575.2 362.0 1578.7 359.3 1582.2 356.6 1585.8 354.0 1589.3 351.6 1592.8 349.3 1596.4 347.2 1599.9 345.2 1603.4 343.3 1606.9 341.4 1610.5 339.6 1614.0 337.7 1617.5 335.8 1621.1 333.8 1624.6 331.7 1628.1 329.6 1631.7 327.4 1635.2 325.2 1638.7 322.9 1642.2 320.7 1645.8 318.6 1649.3 316.4 1652.8 314.4 1656.4 312.4 1659.9 310.5 1663.4 308.6 1667.0 306.9 1670.5 305.1 1674.0 303.5 1677.5 301.8 1681.1 300.2 1684.6 298.6 1688.1 297.0 1691.7 295.5 1695.2 293.9 1698.7 292.4 1702.3 290.8 1705.8 289.2 1709.3 287.6 1712.8 286.0 1716.4 284.4 1719.9 282.7 1723.4 281.0 1727.0 279.3 1730.5 277.5 1734.0 275.8 1737.6 274.1 1741.1 272.4 1744.6 270.8 1748.1 269.2 1751.7 267.6 1755.2 266.2 1758.7 264.8 1762.3 263.6 1765.8 262.3 1769.3 261.1 1772.9 259.9 1776.4 258.7 1779.9 257.4 1783.4 256.1 1787.0 254.7 1790.5 253.3 1794.0 251.8 1797.6 250.3 1801.1 248.8 1804.6 247.3 1808.2 245.8 1811.7 244.3 1815.2 242.8 1818.7 241.3 1822.3 239.8 1825.8 238.4 1829.3 237.0 1832.9 235.7 1836.4 234.4 1839.9 233.2 1843.5 232.0 1847.0 230.8 1850.5 229.7 1854.0 228.7 1857.6 227.6 1861.1 226.6 1864.6 225.6 1868.2 224.6 1871.7 223.6 1875.2 222.6 1878.8 221.5 1882.3 220.5 1885.8 219.4 1889.3 218.3 1892.9 217.1 1896.4 216.0 1899.9 214.8 1903.5 213.6 1907.0 212.4 1910.5 211.2 1914.1 210.0 1916.0 209.3" fill="none" stroke="#d6b8f1" stroke-width="2" marker-start="url(#mpurple)" marker-mid="url(#mpurple)" marker-end="url(#mpurple)"/>
<path d="M486.6 452.4 489.2 454.1 492.7 456.4 496.2 458.7 499.8 460.9 503.3 463.1 506.8 465.2 510.4 467.2 513.9 469.2 517.4 471.1 520.9 473.1 524.5 475.0 528.0 477.1 531.5 479.2 535.1 481.3 538.6 483.3 542.1 485.2 545.7 487.0 549.2 488.6 552.7 490.2 556.2 491.8 559.8 493.3 563.3 494.7 566.8 496.2 570.4 497.6 573.9 499.0 577.4 500.3 581.0 501.7 584.5 503.0 588.0 504.3 591.5 505.6 595.1 506.8 598.6 508.1 602.1 509.3 605.7 510.5 609.2 511.7 612.7 512.9 616.3 514.1 619.8 515.3 623.3 516.4 626.8 517.5 630.4 518.6 633.9 519.7 637.4 520.8 641.0 521.8 644.5 522.9 648.0 523.9 651.6 524.9 655.1 525.9 658.6 526.9 662.1 527.9 665.7 528.9 669.2 529.9 672.7 530.8 676.3 531.8 679.8 532.7 683.3 533.7 686.9 534.7 690.4 535.7 693.9 536.8 697.4 537.9 701.0 539.1 704.5 540.2 708.0 541.4 711.6 542.6 715.1 543.8 718.6 544.9 722.2 546.0 725.7 547.1 729.2 548.2 732.7 549.2 736.3 550.3 739.8 551.3 743.3 552.3 746.9 553.3 750.4 554.4 753.9 555.4 757.5 556.4 761.0 557.4 764.5 558.3 768.0 559.3 771.6 560.2 775.1 561.2 778.6 562.3 782.2 563.3 785.7 564.5 789.2 565.7 792.8 567.1 796.3 568.6 799.8 570.3 803.3 572.0 806.9 573.7 810.4 575.4 813.9 577.1 817.5 578.8 821.0 580.5 824.5 582.3 828.1 584.1 831.6 585.9 835.1 587.7 838.6 589.6 842.2 591.5 845.7 593.4 849.2 595.4 852.8 597.4 856.3 599.4 859.8 601.5 863.4 603.7 866.9 605.9 870.4 608.3 873.9 610.7 877.5 613.1 881.0 615.6 884.5 618.1 888.1 620.7 891.6 623.2 895.1 625.7 898.7 628.2 902.2 630.8 905.7 633.6 909.2 636.4 912.8 639.5 916.3 642.8 919.8 646.6 923.4 650.6 926.9 654.9 930.4 659.3 934.0 663.9 937.5 668.6 941.0 673.6 944.5 678.8 948.1 684.1 951.6 689.4 955.1 694.4 958.7 700.0 962.2 706.9 965.7 715.4 969.3 725.0 972.8 734.8 976.3 744.0 979.8 752.6 983.4 764.1 986.9 785.0 990.4 806.5 993.9 831.8 997.5 865.1 1001.0 915.1 1004.5 1034.0 1008.0 1006.2 1011.5 906.3 1015.1 857.2 1018.6 826.3 1022.1 800.1 1025.6 775.9 1029.2 758.5 1032.7 744.7 1036.2 732.7 1039.8 722.0 1043.3 712.8 1046.8 705.0 1050.3 698.2 1053.9 691.9 1057.4 685.8 1060.9 679.6 1064.5 673.2 1068.0 666.9 1071.5 660.7 1075.0 654.7 1078.6 649.1 1082.1 643.7 1085.6 638.5 1089.2 633.5 1092.7 628.7 1096.2 624.4 1099.8 620.2 1103.3 616.2 1106.8 612.4 1110.3 608.7 1113.9 605.1 1117.4 601.7 1120.9 598.3 1124.5 595.0 1128.0 591.7 1131.5 588.5 1135.1 585.3 1138.6 582.2 1142.1 579.3 1145.6 576.4 1149.2 573.5 1152.7 570.7 1156.2 567.9 1159.8 565.2 1163.3 562.4 1166.8 559.6 1170.4 556.7 1173.9 553.8 1177.4 550.7 1180.9 547.7 1184.5 544.6 1188.0 541.5 1191.5 538.5 1195.1 535.5 1198.6 532.7 1202.1 530.0 1205.7 527.3 1209.2 524.7 1212.7 522.2 1216.2 519.7 1219.8 517.3 1223.3 514.9 1226.8 512.5 1230.4 510.1 1233.9 507.8 1237.4 505.4 1241.0 503.1 1244.5 500.8 1248.0 498.5 1251.5 496.1 1255.1 493.8 1258.6 491.4 1262.1 489.0 1265.7 486.6 1269.2 484.3 1272.7 481.9 1276.3 479.5 1279.8 477.2 1283.3 474.8 1286.8 472.5 1290.4 470.1 1293.9 467.8 1297.4 465.4 1301.0 463.1 1304.5 460.8 1308.0 458.4 1311.6 456.1 1315.1 453.8 1318.6 451.4 1322.1 449.1 1325.7 446.7 1329.2 444.4 1332.7 442.1 1336.3 439.8 1339.8 437.5 1343.3 435.2 1346.9 432.9 1350.4 430.6 1353.9 428.3 1357.4 426.0 1361.0 423.7 1364.5 421.4 1368.0 419.0 1371.6 416.7 1375.1 414.4 1378.6 412.1 1382.2 409.8 1385.7 407.5 1389.2 405.1 1392.7 402.8 1396.3 400.4 1399.8 398.1 1403.3 395.7 1406.9 393.3 1410.4 391.0 1413.9 388.6 1417.5 386.2 1421.0 383.8 1424.5 381.4 1428.0 379.0 1431.6 376.6 1435.1 374.1 1438.6 371.7 1442.2 369.3 1445.7 366.8 1449.2 364.4 1452.8 361.9 1456.3 359.5 1459.8 357.0 1463.3 354.5 1466.9 351.9 1470.4 349.3 1473.9 346.7 1477.5 344.1 1481.0 341.4 1484.5 338.7 1488.1 336.1 1491.6 333.5 1495.1 330.9 1498.6 328.3 1502.2 325.8 1505.7 323.3 1509.2 320.9 1512.8 318.6 1516.3 316.4 1519.8 314.3 1523.4 312.2 1526.9 310.2 1530.4 308.1 1533.9 306.2 1537.5 304.2 1541.0 302.3 1544.5 300.4 1548.1 298.6 1551.6 296.7 1555.1 294.9 1558.7 293.1 1562.2 291.4 1565.7 289.6 1569.2 287.9 1572.8 286.1 1576.3 284.4 1579.8 282.7 1583.4 281.0 1586.9 279.3 1590.4 277.6 1594.0 275.9 1597.5 274.2 1601.0 272.5 1604.5 270.7 1608.1 269.0 1611.6 267.3 1615.1 265.5 1618.7 263.8 1622.2 262.1 1625.7 260.4 1629.3 258.7 1632.8 257.1 1636.3 255.5 1639.8 253.9 1643.4 252.4 1646.9 250.9 1650.4 249.5 1654.0 248.2 1657.5 246.9 1661.0 245.7 1664.6 244.5 1668.1 243.4 1671.6 242.3 1675.1 241.2 1678.7 240.2 1682.2 239.2 1685.7 238.2 1689.3 237.3 1692.8 236.4 1696.3 235.5 1699.9 234.6 1703.4 233.7 1706.9 232.8 1710.4 231.9 1714.0 231.0 1717.5 230.1 1721.0 229.2 1724.6 228.3 1728.1 227.4 1731.6 226.6 1735.2 225.7 1738.7 224.8 1742.2 224.0 1745.7 223.1 1749.3 222.3 1752.8 221.4 1756.3 220.6 1759.9 219.8 1763.4 219.0 1766.9 218.2 1770.5 217.4 1774.0 216.6 1777.5 215.9 1781.0 215.1 1784.6 214.3 1788.1 213.6 1791.6 212.9 1795.2 212.1 1798.7 211.4 1802.2 210.7 1805.8 210.0 1809.3 209.2 1812.8 208.5 1816.3 207.8 1819.9 207.1 1823.4 206.4 1826.9 205.8 1830.5 205.1 1834.0 204.4 1837.5 203.7 1841.1 203.0 1844.6 202.3 1848.1 201.7 1851.6 201.0 1855.2 200.3 1858.7 199.6 1862.2 199.0 1865.8 198.3 1869.3 197.7 1872.8 197.0 1876.4 196.4 1879.9 195.7 1883.4 195.1 1886.9 194.5 1890.5 193.8 1894.0 193.2 1898.0 192.5" fill="none" stroke="#e2c25e" stroke-width="2" marker-start="url(#mgold)" marker-mid="url(#mgold)" marker-end="url(#mgold)"/>
<rect x="308.0" y="28.6" width="1943.2" height="1568.6" fill="none" stroke="#000" stroke-width="4.6"/>
<path d="M485.1 1597.2V1581.9 M661.6 1597.2V1566.9 M838.0 1597.2V1581.9 M1014.5 1597.2V1566.9 M1191.0 1597.2V1581.9 M1367.4 1597.2V1566.9 M1543.8 1597.2V1581.9 M1720.3 1597.2V1566.9 M1896.8 1597.2V1581.9 M2073.2 1597.2V1566.9 M308.0 141.2H338.3 M308.0 253.4H323.3 M308.0 365.6H338.3 M308.0 477.8H323.3 M308.0 590.0H338.3 M308.0 702.2H323.3 M308.0 814.4H338.3 M308.0 926.6H323.3 M308.0 1038.8H338.3 M308.0 1151.0H323.3 M308.0 1263.2H338.3 M308.0 1375.4H323.3 M308.0 1487.6H338.3" stroke="#000" stroke-width="4.4" fill="none"/>
<g font-family="Liberation Serif, serif" font-size="80" fill="#000"><text x="298.7" y="1716" text-anchor="middle">−1.1</text><text x="651.6" y="1716" text-anchor="middle">−1.0</text><text x="1004.5" y="1716" text-anchor="middle">−0.9</text><text x="1357.4" y="1716" text-anchor="middle">−0.8</text><text x="1710.3" y="1716" text-anchor="middle">−0.7</text><text x="2063.2" y="1716" text-anchor="middle">−0.6</text><text x="283" y="172.4" text-anchor="end">−2</text><text x="283" y="396.8" text-anchor="end">−3</text><text x="283" y="621.2" text-anchor="end">−4</text><text x="283" y="845.6" text-anchor="end">−5</text><text x="283" y="1070.0" text-anchor="end">−6</text><text x="283" y="1294.4" text-anchor="end">−7</text><text x="283" y="1518.8" text-anchor="end">−8</text></g>
<text x="1234" y="1893" font-family="Liberation Serif, serif" font-size="82" text-anchor="middle">E(vs.SCE,V)</text>
<text transform="translate(90 860) rotate(-90)" font-family="Liberation Serif, serif" font-size="82" text-anchor="middle">lg (J,A/cm²)</text>
<line x1="1732.6" y1="942.7" x2="1873.7" y2="942.7" stroke="#8c8c8c" stroke-width="3"/><g transform="translate(1803.5 942.7) scale(1.08)" fill="#505050"><rect x="-9" y="-9" width="18" height="18"/></g><line x1="1732.6" y1="1049.1" x2="1873.7" y2="1049.1" stroke="#8fd4ab" stroke-width="3"/><g transform="translate(1803.5 1049.1) scale(1.08)" fill="#37ac6a"><path d="M-11.75 -11H11.75L0 11Z"/></g><line x1="1732.6" y1="1155.5" x2="1873.7" y2="1155.5" stroke="#d6b8f1" stroke-width="3"/><g transform="translate(1803.5 1155.5) scale(1.08)" fill="#ae78df"><path d="M0 -13L12.75 0L0 13L-12.75 0Z"/></g><line x1="1732.6" y1="1261.9" x2="1873.7" y2="1261.9" stroke="#80aef0" stroke-width="3"/><g transform="translate(1803.5 1261.9) scale(1.08)" fill="#1a70de"><path d="M-13 12H13L0 -12Z"/></g><line x1="1732.6" y1="1368.3" x2="1873.7" y2="1368.3" stroke="#e2c25e" stroke-width="3"/><g transform="translate(1803.5 1368.3) scale(1.08)" fill="#cc9900"><path d="M11.5 -13.5V13.5L-11.5 0Z"/></g><line x1="1732.6" y1="1474.7" x2="1873.7" y2="1474.7" stroke="#f59a9a" stroke-width="3"/><g transform="translate(1803.5 1474.7) scale(1.08)" fill="#f0403f"><circle r="10.7"/></g>
<g font-family="Noto Serif CJK SC, Liberation Serif, serif" font-weight="300" font-size="64" fill="#000"><text transform="translate(1925.5 967.3) scale(0.89 1)" text-anchor="middle">n</text><text transform="translate(1960.7 967.3) scale(0.97 1)" text-anchor="middle">o</text><text transform="translate(2030.4 967.3) scale(1.0 1)" text-anchor="middle">S</text><text transform="translate(2065.6 967.3) scale(1.2 1)" text-anchor="middle">i</text><text transform="translate(2101.4 967.3) scale(0.79 1)" text-anchor="middle">O</text><text transform="translate(2131 985.3) scale(1.0 1)" font-size="46" text-anchor="middle">2</text><text transform="translate(1925.6 1073.6) scale(0.92 1)" text-anchor="middle">1</text><text transform="translate(1960.5 1073.6) scale(0.68 1)" text-anchor="middle">w</text><text transform="translate(1995.8 1073.6) scale(1.2 1)" text-anchor="middle">t</text><text transform="translate(2043.6 1073.6) scale(1.08 1)" text-anchor="middle">%</text><text transform="translate(2087.9 1073.6) scale(1.0 1)" text-anchor="middle">S</text><text transform="translate(2124.2 1073.6) scale(1.2 1)" text-anchor="middle">i</text><text transform="translate(2159.1 1073.6) scale(0.78 1)" text-anchor="middle">O</text><text transform="translate(2188.4 1091.6) scale(1.0 1)" font-size="46" text-anchor="middle">2</text><text transform="translate(1925.6 1179.9) scale(1.0 1)" text-anchor="middle">2</text><text transform="translate(1960.5 1179.9) scale(0.68 1)" text-anchor="middle">w</text><text transform="translate(1995.8 1179.9) scale(1.2 1)" text-anchor="middle">t</text><text transform="translate(2043.6 1179.9) scale(1.08 1)" text-anchor="middle">%</text><text transform="translate(2087.9 1179.9) scale(1.0 1)" text-anchor="middle">S</text><text transform="translate(2124.2 1179.9) scale(1.2 1)" text-anchor="middle">i</text><text transform="translate(2159.1 1179.9) scale(0.78 1)" text-anchor="middle">O</text><text transform="translate(2188.4 1197.9) scale(1.0 1)" font-size="46" text-anchor="middle">2</text><text transform="translate(1925.6 1286.2) scale(1.0 1)" text-anchor="middle">3</text><text transform="translate(1960.5 1286.2) scale(0.68 1)" text-anchor="middle">w</text><text transform="translate(1995.8 1286.2) scale(1.2 1)" text-anchor="middle">t</text><text transform="translate(2043.6 1286.2) scale(1.08 1)" text-anchor="middle">%</text><text transform="translate(2087.9 1286.2) scale(1.0 1)" text-anchor="middle">S</text><text transform="translate(2124.2 1286.2) scale(1.2 1)" text-anchor="middle">i</text><text transform="translate(2159.1 1286.2) scale(0.78 1)" text-anchor="middle">O</text><text transform="translate(2188.4 1304.2) scale(1.0 1)" font-size="46" text-anchor="middle">2</text><text transform="translate(1925.6 1392.5) scale(1.0 1)" text-anchor="middle">5</text><text transform="translate(1960.5 1392.5) scale(0.68 1)" text-anchor="middle">w</text><text transform="translate(1995.8 1392.5) scale(1.2 1)" text-anchor="middle">t</text><text transform="translate(2043.6 1392.5) scale(1.08 1)" text-anchor="middle">%</text><text transform="translate(2087.9 1392.5) scale(1.0 1)" text-anchor="middle">S</text><text transform="translate(2124.2 1392.5) scale(1.2 1)" text-anchor="middle">i</text><text transform="translate(2159.1 1392.5) scale(0.78 1)" text-anchor="middle">O</text><text transform="translate(2188.4 1410.5) scale(1.0 1)" font-size="46" text-anchor="middle">2</text><text transform="translate(1925.6 1498.8) scale(0.92 1)" text-anchor="middle">1</text><text transform="translate(1960.5 1498.8) scale(1.1 1)" text-anchor="middle">0</text><text transform="translate(1996 1498.8) scale(0.68 1)" text-anchor="middle">w</text><text transform="translate(2031.3 1498.8) scale(1.2 1)" text-anchor="middle">t</text><text transform="translate(2079.1 1498.8) scale(1.08 1)" text-anchor="middle">%</text><text transform="translate(2123.4 1498.8) scale(1.0 1)" text-anchor="middle">S</text><text transform="translate(2159.7 1498.8) scale(1.2 1)" text-anchor="middle">i</text><text transform="translate(2194.6 1498.8) scale(0.78 1)" text-anchor="middle">O</text><text transform="translate(2223.9 1516.8) scale(1.0 1)" font-size="46" text-anchor="middle">2</text></g></svg>
</body></html>
